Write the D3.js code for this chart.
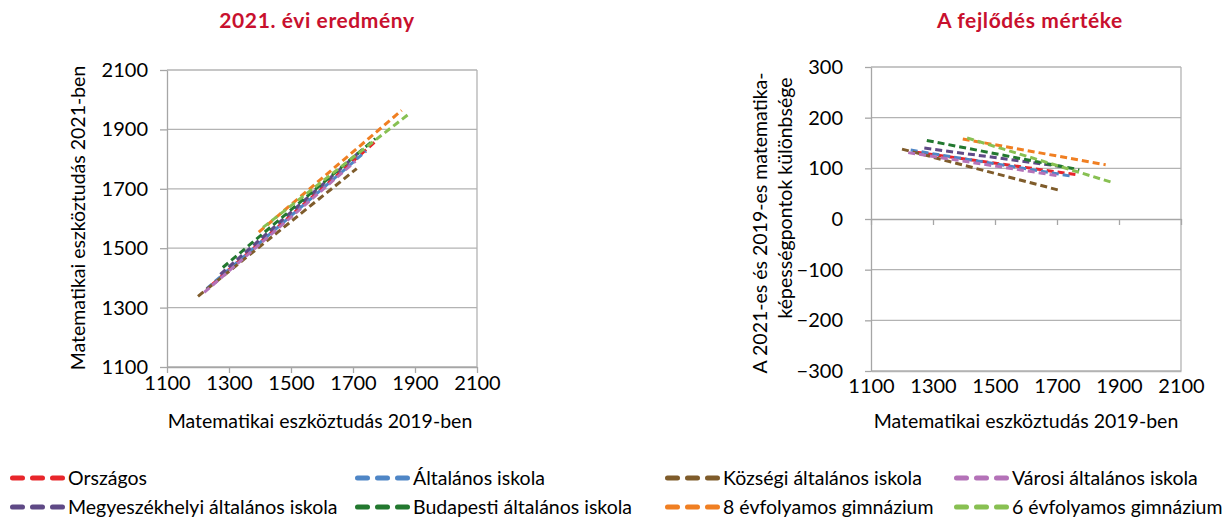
<!DOCTYPE html>
<html>
<head>
<meta charset="utf-8">
<script src="https://cdn.jsdelivr.net/npm/d3@7"></script>
<style>
  html, body { margin: 0; padding: 0; background: #fff; }
  svg { display: block; font-family: Lato, "Noto Sans", sans-serif; }
</style>
</head>
<body>
<svg id="chart" width="1231" height="520"></svg>
<script>
// ---------- data ----------
const seriesNames = [
  "Országos", "Általános iskola", "Községi általános iskola", "Városi általános iskola",
  "Megyeszékhelyi általános iskola", "Budapesti általános iskola",
  "8 évfolyamos gimnázium", "6 évfolyamos gimnázium"
];
const seriesColors = ["#e8262b", "#4f86c6", "#7f5c2b", "#b472b8", "#5f4a86", "#22782f", "#f07f22", "#88c052"];
// 2019 score at the start and end of each trend line
const start2019 = [1245, 1228, 1200, 1220, 1272, 1280, 1396, 1410];
const end2019   = [1770, 1742, 1712, 1708, 1722, 1772, 1857, 1884];
// 2021 score at the start and end of each trend line
const start2021 = [1377, 1364, 1338, 1351, 1412, 1435, 1554, 1570];
const end2021   = [1857, 1827, 1768, 1793, 1825, 1869, 1964, 1955];
// 2021 - 2019 difference at the start and end
const startDiff = [132, 136, 138, 131, 140, 155, 158, 160];
const endDiff   = [87, 85, 56, 85, 103, 97, 107, 71];

const xTicks = [1100, 1300, 1500, 1700, 1900, 2100];
const leftYTicks = [1100, 1300, 1500, 1700, 1900, 2100];
const rightYTicks = [-300, -200, -100, 0, 100, 200, 300];

const leftTitle = "2021. évi eredmény";
const rightTitle = "A fejlődés mértéke";
const xTitle = "Matematikai eszköztudás 2019-ben";
const leftYTitle = "Matematikai eszköztudás 2021-ben";
const rightYTitle = ["A 2021-es és 2019-es matematika-", "képességpontok különbsége"];

// ---------- setup ----------
const svg = d3.select("#chart");
const gridColor = "#b3b3b3";
const axisColor = "#a6a6a6";
const titleColor = "#c8102e";
const fs = 19.5;     // titles / legend
const tfs = 20;      // tick labels

function styleAxis(g) {
  g.selectAll(".domain").attr("stroke", axisColor).attr("stroke-width", 1.3);
  g.selectAll(".tick line").attr("stroke", axisColor).attr("stroke-width", 1.3);
  g.selectAll(".tick text").attr("fill", "#000").style("font-size", tfs + "px").style("font-family", "Lato, sans-serif");
}

// ---------- left chart ----------
const lx = d3.scaleLinear().domain([1100, 2100]).range([167, 477]);
const ly = d3.scaleLinear().domain([1100, 2100]).range([367, 70]);

const L = svg.append("g");
L.selectAll("line.grid").data(leftYTicks).join("line")
  .attr("x1", lx(1100)).attr("x2", lx(2100))
  .attr("y1", d => ly(d)).attr("y2", d => ly(d))
  .attr("stroke", gridColor).attr("stroke-width", 1.3);
L.append("line").attr("x1", lx(2100)).attr("x2", lx(2100)).attr("y1", ly(1100)).attr("y2", ly(2100))
  .attr("stroke", gridColor).attr("stroke-width", 1.3);

const lxAxis = L.append("g").attr("transform", `translate(0,${ly(1100)})`)
  .call(d3.axisBottom(lx).tickValues(xTicks).tickSize(6).tickSizeOuter(0).tickPadding(3).tickFormat(d3.format("d")));
styleAxis(lxAxis);
const lyAxis = L.append("g").attr("transform", `translate(${lx(1100)},0)`)
  .call(d3.axisLeft(ly).tickValues(leftYTicks).tickSize(7).tickSizeOuter(0).tickPadding(12).tickFormat(d3.format("d")));
styleAxis(lyAxis);

const idx = d3.range(seriesNames.length);
L.selectAll("line.series").data(idx).join("line")
  .attr("x1", i => lx(start2019[i])).attr("y1", i => ly(start2021[i]))
  .attr("x2", i => lx(end2019[i])).attr("y2", i => ly(end2021[i]))
  .attr("stroke", i => seriesColors[i]).attr("stroke-width", 3)
  .attr("stroke-dasharray", "7,4");

L.append("text").attr("x", 317).attr("y", 21).attr("dy", "0.35em").attr("text-anchor", "middle")
  .attr("fill", titleColor).style("font-weight", "bold").style("font-size", "21px").style("letter-spacing", "0.6px").text(leftTitle);
L.append("text").attr("x", 320).attr("y", 421).attr("dy", "0.35em").attr("text-anchor", "middle")
  .style("font-size", fs + "px").text(xTitle);
L.append("text").attr("transform", "translate(78,218) rotate(-90)").attr("dy", "0.35em").attr("text-anchor", "middle")
  .style("font-size", fs + "px").text(leftYTitle);

// ---------- right chart ----------
const rx = d3.scaleLinear().domain([1100, 2100]).range([871, 1181]);
const ry = d3.scaleLinear().domain([-300, 300]).range([371, 67]);

const R = svg.append("g");
R.selectAll("line.grid").data(rightYTicks.filter(d => d !== 0)).join("line")
  .attr("x1", rx(1100)).attr("x2", rx(2100))
  .attr("y1", d => ry(d)).attr("y2", d => ry(d))
  .attr("stroke", gridColor).attr("stroke-width", 1.3);
R.append("line").attr("x1", rx(2100)).attr("x2", rx(2100)).attr("y1", ry(-300)).attr("y2", ry(300))
  .attr("stroke", gridColor).attr("stroke-width", 1.3);

const rxAxis0 = R.append("g").attr("transform", `translate(0,${ry(0)})`)
  .call(d3.axisBottom(rx).tickValues(xTicks).tickSize(6).tickSizeOuter(0).tickFormat(""));
styleAxis(rxAxis0);
const rxAxisLabels = R.append("g").attr("transform", `translate(0,${ry(-300)})`)
  .call(d3.axisBottom(rx).tickValues(xTicks).tickSize(0).tickPadding(8).tickFormat(d3.format("d")));
styleAxis(rxAxisLabels);
rxAxisLabels.selectAll(".domain").attr("stroke", gridColor);

const ryAxis = R.append("g").attr("transform", `translate(${rx(1100)},0)`)
  .call(d3.axisLeft(ry).tickValues(rightYTicks).tickSize(6).tickSizeOuter(0).tickPadding(22).tickFormat(d3.format("d")));
styleAxis(ryAxis);

R.selectAll("line.series").data(idx).join("line")
  .attr("x1", i => rx(start2019[i])).attr("y1", i => ry(startDiff[i]))
  .attr("x2", i => rx(end2019[i])).attr("y2", i => ry(endDiff[i]))
  .attr("stroke", i => seriesColors[i]).attr("stroke-width", 3)
  .attr("stroke-dasharray", "7,4");

R.append("text").attr("x", 1030).attr("y", 21).attr("dy", "0.35em").attr("text-anchor", "middle")
  .attr("fill", titleColor).style("font-weight", "bold").style("font-size", "21px").style("letter-spacing", "0.6px").text(rightTitle);
R.append("text").attr("x", 1026).attr("y", 421).attr("dy", "0.35em").attr("text-anchor", "middle")
  .style("font-size", fs + "px").text(xTitle);
R.append("text").attr("transform", "translate(760,223) rotate(-90)").attr("dy", "0.35em").attr("text-anchor", "middle")
  .style("font-size", fs + "px").text(rightYTitle[0]);
R.append("text").attr("transform", "translate(785,198) rotate(-90)").attr("dy", "0.35em").attr("text-anchor", "middle")
  .style("font-size", fs + "px").text(rightYTitle[1]);

// ---------- legend ----------
const legendX = [10, 355, 665, 954];
const legendY = [478, 507];
const leg = svg.append("g");
const legItems = leg.selectAll("g").data(idx).join("g")
  .attr("transform", i => `translate(${legendX[i % 4]},${legendY[Math.floor(i / 4)]})`);
legItems.append("line").attr("x1", 2.5).attr("x2", 52.5).attr("y1", 0).attr("y2", 0)
  .attr("stroke", i => seriesColors[i]).attr("stroke-width", 5)
  .attr("stroke-linecap", "round").attr("stroke-dasharray", "10,10");
legItems.append("text").attr("x", 58).attr("y", 0).attr("dy", "0.35em")
  .style("font-size", fs + "px").text(i => seriesNames[i]);
</script>
</body>
</html>
